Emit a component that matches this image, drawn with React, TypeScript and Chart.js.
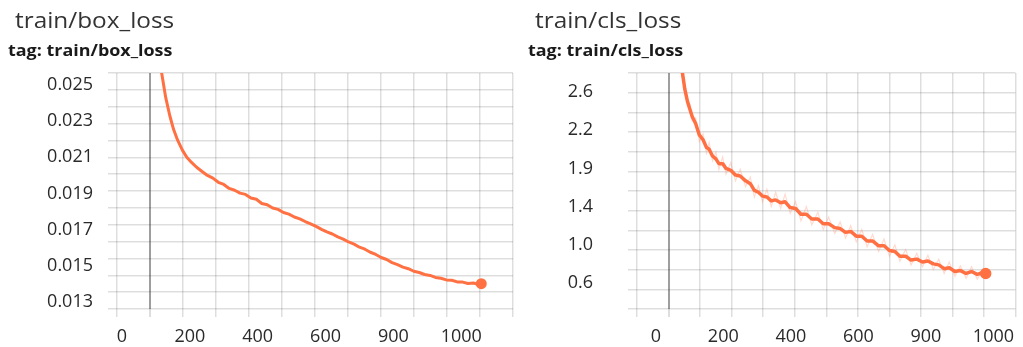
import React, { useEffect, useRef } from 'react';
import { Chart, registerables } from 'chart.js';

Chart.register(...registerables);

// ---- data ----
const boxSteps = [100, 117, 129, 141, 152, 164, 178, 191, 205, 220, 236, 252, 268, 284, 300, 316, 332, 348, 364, 380, 396, 412, 428, 444, 460, 476, 492, 508, 524, 540, 556, 572, 588, 604, 620, 636, 652, 668, 684, 700, 716, 732, 748, 764, 780, 796, 812, 828, 844, 860, 876, 892, 908, 924, 940, 956, 972, 988, 1004, 1020, 1036, 1050, 1059];
const boxValues = [0.0278, 0.02566, 0.0243, 0.0233, 0.02255, 0.02195, 0.0214, 0.021, 0.02072, 0.02045, 0.02022, 0.02, 0.01985, 0.01962, 0.0195, 0.01928, 0.01918, 0.01902, 0.01895, 0.01875, 0.01868, 0.01845, 0.01838, 0.0182, 0.01812, 0.01795, 0.01786, 0.0177, 0.0176, 0.01745, 0.01732, 0.01718, 0.01702, 0.01688, 0.01676, 0.0166, 0.01648, 0.01632, 0.0162, 0.01603, 0.01592, 0.01575, 0.01563, 0.01546, 0.01535, 0.01518, 0.01507, 0.01493, 0.01484, 0.0147, 0.01463, 0.01452, 0.01447, 0.01436, 0.01431, 0.01422, 0.0142, 0.01411, 0.0141, 0.01402, 0.01405, 0.01397, 0.01401];

const clsSteps = [70, 79, 86, 94, 101, 108, 118, 129, 140, 150, 158, 168, 178, 187, 198, 208, 222, 236, 250, 266, 280, 292, 304, 316, 329, 342, 355, 370, 383, 398, 414, 430, 446, 462, 480, 496, 512, 530, 546, 562, 577, 594, 610, 626, 642, 660, 676, 692, 708, 723, 740, 756, 773, 790, 806, 822, 838, 854, 869, 886, 902, 919, 935, 952, 969, 977];
const clsValues = [3.0, 2.8, 2.63, 2.5, 2.42, 2.34, 2.27, 2.15, 2.1, 2.02, 2.0, 1.93, 1.9, 1.85, 1.85, 1.8, 1.78, 1.73, 1.72, 1.67, 1.64, 1.57, 1.55, 1.51, 1.5, 1.46, 1.47, 1.44, 1.45, 1.39, 1.38, 1.32, 1.32, 1.27, 1.27, 1.22, 1.22, 1.18, 1.17, 1.13, 1.14, 1.09, 1.09, 1.04, 1.04, 0.99, 0.99, 0.94, 0.93, 0.88, 0.88, 0.84, 0.85, 0.82, 0.83, 0.8, 0.79, 0.75, 0.76, 0.72, 0.73, 0.7, 0.72, 0.69, 0.71, 0.7];
const clsRawValues = [3.05, 2.75, 2.68, 2.45, 2.47, 2.3, 2.33, 2.08, 2.16, 1.96, 2.07, 1.88, 1.97, 1.79, 1.92, 1.74, 1.86, 1.67, 1.79, 1.61, 1.71, 1.5, 1.62, 1.45, 1.58, 1.4, 1.55, 1.38, 1.53, 1.33, 1.45, 1.25, 1.4, 1.21, 1.34, 1.16, 1.29, 1.12, 1.24, 1.07, 1.2, 1.03, 1.16, 0.98, 1.11, 0.93, 1.06, 0.88, 1.0, 0.83, 0.95, 0.79, 0.91, 0.77, 0.89, 0.74, 0.85, 0.7, 0.82, 0.67, 0.78, 0.65, 0.77, 0.64, 0.75, 0.7];

const xTickValues = [0, 200, 400, 600, 800, 1000];
const xTickLabels = ['0', '200', '400', '600', '900', '1000'];
const boxYTickValues = [0.013, 0.015, 0.017, 0.019, 0.021, 0.023, 0.025];
const boxYTickLabels = ['0.013', '0.015', '0.017', '0.019', '0.021', '0.023', '0.025'];
const clsYTickValues = [0.6, 1.0, 1.4, 1.8, 2.2, 2.6];
const clsYTickLabels = ['0.6', '1.0', '1.4', '1.9', '2.2', '2.6'];

const ORANGE = 'rgb(255,112,67)';
const GRID = 'rgba(0,0,0,0.13)';
const DARK = 'rgba(0,0,0,0.38)';

type PanelCfg = {
  width: number;
  padRight: number;
  gridXCount: number;
  gridYCount: number;
  xsMin: number;
  xsMax: number;
  ysMin: number;
  ysMax: number;
  yTickValues: number[];
  yTickLabels: string[];
  yLabelPad: number;
  datasets: any[];
};

function zeroPad(s: any) {
  s.paddingTop = 0;
  s.paddingBottom = 0;
  s.paddingLeft = 0;
  s.paddingRight = 0;
}

function ChartPanel({ cfg }: { cfg: PanelCfg }) {
  const ref = useRef<HTMLCanvasElement | null>(null);
  useEffect(() => {
    if (!ref.current) return;
    const tickFont = { family: '"Open Sans", sans-serif', size: 18 };
    const chart = new Chart(ref.current, {
      type: 'line',
      data: { datasets: cfg.datasets },
      options: {
        animation: false,
        responsive: false,
        devicePixelRatio: 1,
        layout: { padding: { left: 0, top: 73, right: cfg.padRight, bottom: 0 } },
        plugins: { legend: { display: false }, tooltip: { enabled: false } },
        elements: { point: { radius: 0 } },
        scales: {
          x: {
            type: 'linear',
            position: 'bottom',
            min: 0,
            max: cfg.gridXCount,
            ticks: { display: false, stepSize: 1 },
            border: { display: false },
            grid: {
              color: (c: any) => (c.tick && c.tick.value === 1 ? DARK : GRID),
              lineWidth: (c: any) => (c.tick && c.tick.value === 1 ? 2 : 1.5),
              tickColor: GRID,
              tickLength: 8,
              drawTicks: true,
            },
            afterFit: (s: any) => { s.height = 8; zeroPad(s); },
          },
          y: {
            type: 'linear',
            position: 'left',
            min: 0,
            max: cfg.gridYCount,
            ticks: { display: false, stepSize: 1 },
            border: { display: false },
            grid: { color: GRID, lineWidth: 1.5, tickColor: GRID, tickLength: 9, drawTicks: true },
            afterFit: (s: any) => { s.width = 9; zeroPad(s); },
          },
          xs: {
            type: 'linear',
            position: 'bottom',
            min: cfg.xsMin,
            max: cfg.xsMax,
            grid: { display: false, drawTicks: false },
            border: { display: false },
            afterBuildTicks: (s: any) => { s.ticks = xTickValues.map((v) => ({ value: v })); },
            ticks: {
              font: tickFont,
              color: '#2a2a2a',
              padding: 9,
              maxRotation: 0,
              autoSkip: false,
              callback: (_v: any, i: number) => xTickLabels[i],
            },
            afterFit: (s: any) => { s.height = 30; zeroPad(s); },
          },
          ys: {
            type: 'linear',
            position: 'left',
            min: cfg.ysMin,
            max: cfg.ysMax,
            grid: { display: false, drawTicks: false },
            border: { display: false },
            afterBuildTicks: (s: any) => { s.ticks = cfg.yTickValues.map((v) => ({ value: v })); },
            ticks: {
              font: tickFont,
              color: '#2a2a2a',
              padding: cfg.yLabelPad,
              autoSkip: false,
              callback: (_v: any, i: number) => cfg.yTickLabels[i],
            },
            afterFit: (s: any) => { s.width = 108; zeroPad(s); },
          },
        },
      } as any,
    });
    return () => chart.destroy();
  }, [cfg]);
  return <canvas ref={ref} width={cfg.width} height={347} style={{ display: 'block', width: cfg.width, height: 347 }} />;
}

const titleStyle: React.CSSProperties = {
  position: 'absolute',
  fontFamily: '"Open Sans", sans-serif',
  fontSize: 21,
  lineHeight: '21px',
  color: '#333',
  whiteSpace: 'nowrap',
  transform: 'scaleX(1.16)',
  transformOrigin: 'left top',
  top: 10,
};
const tagStyle: React.CSSProperties = {
  position: 'absolute',
  fontFamily: '"Open Sans", sans-serif',
  fontSize: 16,
  fontWeight: 700,
  lineHeight: '16px',
  color: '#1a1a1a',
  whiteSpace: 'nowrap',
  transform: 'scaleX(1.12)',
  transformOrigin: 'left top',
  top: 42,
};

const boxCfg: PanelCfg = {
  width: 520,
  padRight: 5,
  gridXCount: 12,
  gridYCount: 14,
  xsMin: -14.66,
  xsMax: 1152.5,
  ysMin: 0.012612,
  ysMax: 0.025665,
  yTickValues: boxYTickValues,
  yTickLabels: boxYTickLabels,
  yLabelPad: 15,
  datasets: [
    {
      data: boxSteps.map((s, i) => ({ x: s, y: boxValues[i] })),
      xAxisID: 'xs',
      yAxisID: 'ys',
      borderColor: ORANGE,
      backgroundColor: ORANGE,
      borderWidth: 3,
      tension: 0,
      borderJoinStyle: 'round',
      pointRadius: (c: any) => (c.dataIndex === boxSteps.length - 1 ? 4 : 0),
    },
  ],
};

const clsCfg: PanelCfg = {
  width: 503,
  padRight: 3,
  gridXCount: 12,
  gridYCount: 12,
  xsMin: -55.6,
  xsMax: 1065.3,
  ysMin: 0.3277,
  ysMax: 2.799,
  yTickValues: clsYTickValues,
  yTickLabels: clsYTickLabels,
  yLabelPad: 35,
  datasets: [
    {
      data: clsSteps.map((s, i) => ({ x: s, y: clsRawValues[i] })),
      xAxisID: 'xs',
      yAxisID: 'ys',
      borderColor: 'rgba(255,112,67,0.25)',
      borderWidth: 1.2,
      tension: 0,
    },
    {
      data: clsSteps.map((s, i) => ({ x: s, y: clsValues[i] })),
      xAxisID: 'xs',
      yAxisID: 'ys',
      borderColor: ORANGE,
      backgroundColor: ORANGE,
      borderWidth: 3.5,
      tension: 0,
      borderJoinStyle: 'round',
      pointRadius: (c: any) => (c.dataIndex === clsSteps.length - 1 ? 4 : 0),
    },
  ],
};

export default function App() {
  return (
    <div style={{ position: 'absolute', left: 0, top: 0, width: 1023, height: 347, background: '#fff', overflow: 'hidden' }}>
      <div style={{ position: 'absolute', left: 0, top: 0, width: 520, height: 347 }}>
        <ChartPanel cfg={boxCfg} />
        <div style={{ ...titleStyle, left: 15 }}>train/box_loss</div>
        <div style={{ ...tagStyle, left: 8 }}>tag: train/box_loss</div>
      </div>
      <div style={{ position: 'absolute', left: 520, top: 0, width: 503, height: 347 }}>
        <ChartPanel cfg={clsCfg} />
        <div style={{ ...titleStyle, left: 15 }}>train/cls_loss</div>
        <div style={{ ...tagStyle, left: 8 }}>tag: train/cls_loss</div>
      </div>
    </div>
  );
}
